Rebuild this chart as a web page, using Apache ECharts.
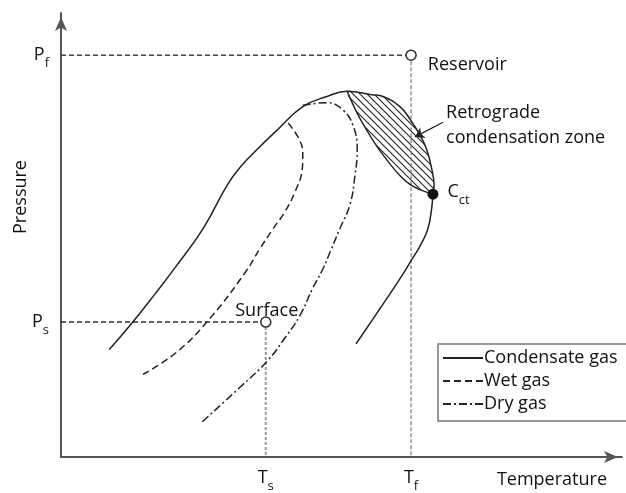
<!DOCTYPE html>
<html>
<head>
<meta charset="utf-8">
<script src="https://cdn.jsdelivr.net/npm/echarts@6/dist/echarts.min.js"></script>
<style>
  html, body { margin: 0; padding: 0; background: #fff; }
  #chart { width: 626px; height: 493px; }
</style>
</head>
<body>
<div id="chart"></div>
<script>
// Phase diagram of a condensate gas reservoir (relative temperature / pressure units, 0-100)

// Condensate gas envelope: bubble-point branch, cricondenbar, dew-point branch
const condensateGas = [
  [8.6, 24.2], [12.8, 30.4], [16.8, 36.8], [20.3, 42.6], [25.3, 51.4], [29.6, 61.2],
  [31.9, 65.2], [34.9, 69.2], [38.5, 73.6], [43.1, 78.9], [47.4, 81.2], [51.0, 82.4],
  [55.4, 81.6], [57.4, 81.2], [60.4, 78.9], [62.2, 76.1], [64.0, 72.5], [65.2, 69.2],
  [66.1, 64.8], [66.5, 61.2], [66.3, 59.2], [66.1, 56.3], [65.4, 51.4], [64.0, 47.5],
  [62.6, 44.6], [60.4, 40.1], [56.9, 33.5], [52.6, 25.5]
];
// Outer edge of the retrograde zone follows the dew line from the cricondenbar to C_ct
const retrogradeOuter = [
  [51.0, 82.4], [55.4, 81.6], [57.4, 81.2], [60.4, 78.9], [62.2, 76.1], [64.0, 72.5],
  [65.2, 69.2], [66.1, 64.8], [66.5, 61.2], [66.3, 59.2]
];
// Inner edge of the retrograde zone, from the cricondenbar down to C_ct
const retrogradeInner = [
  [51.0, 82.4], [52.8, 77.4], [54.6, 73.4], [56.5, 69.6], [58.7, 65.9], [60.4, 63.4],
  [62.2, 61.4], [64.2, 60.1], [66.3, 59.2]
];
const wetGas = [
  [40.5, 75.2], [42.6, 71.2], [43.1, 67.9], [43.0, 64.8], [41.7, 59.7], [39.9, 55.2],
  [37.8, 51.4], [35.5, 47.0], [32.8, 41.5], [26.6, 31.3], [20.7, 23.7], [14.6, 18.6]
];
const dryGas = [
  [43.1, 79.2], [47.4, 79.8], [50.3, 78.1], [52.1, 74.5], [52.8, 69.2], [52.4, 63.4],
  [51.5, 56.8], [49.7, 51.4], [48.0, 46.3], [46.7, 42.4], [44.9, 38.1], [42.6, 31.9],
  [39.9, 26.8], [36.7, 21.5], [31.9, 15.7], [24.8, 7.5]
];

// Reservoir and surface conditions, cricondentherm
const Tf = 62.4, Pf = 90.5;
const Ts = 36.5, Ps = 30.4;
const cricondentherm = [66.3, 59.2];
// Pointer to the retrograde condensation zone
const zonePointer = [[68.1, 75.4], [63.1, 72.1]];

const xTickLabels = { T_s: Ts, T_f: Tf };
const yTickLabels = { P_s: Ps, P_f: Pf };

const FONT = '"Open Sans", "Noto Sans", sans-serif';
const INK = '#222';
const TEXT = '#111';

function subLabel(main, sub) { return '{m|' + main + '}{s|' + sub + '}'; }
const subRich = {
  m: { fontSize: 18, lineHeight: 22, color: TEXT, fontFamily: FONT },
  s: { fontSize: 13, lineHeight: 30, verticalAlign: 'bottom', color: TEXT, fontFamily: FONT }
};

// Diagonal hatch tile for the retrograde zone
const hatch = document.createElement('canvas');
hatch.width = 7; hatch.height = 7;
(function () {
  const c = hatch.getContext('2d');
  c.strokeStyle = '#222';
  c.lineWidth = 1.1;
  c.beginPath();
  c.moveTo(-1, -1); c.lineTo(8, 8);
  c.moveTo(-1, 6); c.lineTo(1, 8);
  c.moveTo(6, -1); c.lineTo(8, 1);
  c.stroke();
})();

const chart = echarts.init(document.getElementById('chart'), null, { renderer: 'canvas' });

function arrowAxisLine() {
  return {
    show: true,
    symbol: ['none', 'arrow'], symbolSize: [9, 14], symbolOffset: [0, -4],
    lineStyle: { color: '#555', width: 2 }
  };
}
function tickFormatter(table) {
  return function (v) {
    const key = Object.keys(table).find(k => table[k] === v);
    const parts = key.split('_');
    return subLabel(parts[0], parts[1]);
  };
}

chart.setOption({
  animation: false,
  backgroundColor: '#fff',
  textStyle: { fontFamily: FONT },
  grid: { left: 61, right: 4, top: 13, bottom: 29 },
  xAxis: {
    type: 'value', min: 0, max: 100,
    axisLine: arrowAxisLine(),
    axisTick: { show: false },
    splitLine: { show: false },
    axisLabel: { customValues: [Ts, Tf], margin: 6, formatter: tickFormatter(xTickLabels), rich: subRich }
  },
  yAxis: {
    type: 'value', min: 0, max: 100,
    axisLine: arrowAxisLine(),
    axisTick: { show: false },
    splitLine: { show: false },
    axisLabel: { customValues: [Ps, Pf], margin: 12, formatter: tickFormatter(yTickLabels), rich: subRich }
  },
  legend: {
    data: ['Condensate gas', 'Wet gas', 'Dry gas'],
    orient: 'vertical',
    left: 438, top: 344,
    itemWidth: 40, itemHeight: 14, itemGap: 5,
    padding: [5, 24, 8, 4],
    borderColor: '#777', borderWidth: 1.5, borderRadius: 0,
    itemStyle: { opacity: 0 },
    textStyle: { fontSize: 18, color: TEXT, fontFamily: FONT, padding: [0, 0, 0, -4] },
    selectedMode: false
  },
  // Axis titles
  graphic: [
    { type: 'text', x: 21, y: 197, rotation: Math.PI / 2,
      style: { text: 'Pressure', fontSize: 18, fontFamily: FONT, fill: TEXT, align: 'center', verticalAlign: 'middle' } },
    { type: 'text', x: 607, y: 480,
      style: { text: 'Temperature', fontSize: 18, fontFamily: FONT, fill: TEXT, align: 'right', verticalAlign: 'middle' } }
  ],
  series: [
    // Reference lines to the reservoir and surface conditions
    { type: 'line', data: [[0, Pf], [Tf, Pf]], symbol: 'none', silent: true,
      lineStyle: { color: '#444', width: 1.5, type: [5, 3] } },
    { type: 'line', data: [[Tf, Pf], [Tf, 0]], symbol: 'none', silent: true,
      lineStyle: { color: '#777', width: 1.2, type: [4, 2] } },
    { type: 'line', data: [[0, Ps], [Ts, Ps]], symbol: 'none', silent: true,
      lineStyle: { color: '#333', width: 1.5, type: [5, 3] } },
    { type: 'line', data: [[Ts, Ps], [Ts, 0]], symbol: 'none', silent: true,
      lineStyle: { color: '#999', width: 2, type: [3, 2] } },
    // Hatched retrograde condensation zone
    {
      type: 'custom', silent: true, z: 3,
      data: [0],
      renderItem: function (params, api) {
        const pts = retrogradeOuter.concat(retrogradeInner.slice(1, -1).reverse()).map(p => api.coord(p));
        return {
          type: 'polygon',
          shape: { points: pts, smooth: 0.25 },
          style: { fill: { image: hatch, repeat: 'repeat' }, stroke: null }
        };
      }
    },
    { type: 'line', name: 'retrograde inner edge', data: retrogradeInner, symbol: 'none', smooth: 0.4, z: 4, silent: true,
      lineStyle: { color: INK, width: 1.4 } },
    { type: 'line', name: 'Condensate gas', data: condensateGas, symbol: 'none', smooth: 0.45, z: 4,
      color: INK, lineStyle: { color: INK, width: 1.5, type: 'solid' } },
    { type: 'line', name: 'Wet gas', data: wetGas, symbol: 'none', smooth: 0.45, z: 4,
      color: INK, lineStyle: { color: INK, width: 1.5, type: [7, 4] } },
    { type: 'line', name: 'Dry gas', data: dryGas, symbol: 'none', smooth: 0.45, z: 4,
      color: INK, lineStyle: { color: INK, width: 1.5, type: [8, 3, 2, 3] } },
    // Arrow pointing into the retrograde zone
    {
      type: 'lines', coordinateSystem: 'cartesian2d', z: 6, silent: true,
      symbol: ['none', 'arrow'], symbolSize: 9,
      lineStyle: { color: INK, width: 1.3, opacity: 1 },
      data: [{ coords: zonePointer }]
    },
    // Labelled state points
    {
      type: 'scatter', z: 8, silent: true,
      symbol: 'circle', symbolSize: 10,
      itemStyle: { color: '#fff', borderColor: '#333', borderWidth: 1.6, opacity: 1 },
      label: { show: true, fontSize: 18, color: TEXT, fontFamily: FONT },
      data: [
        { value: [Tf, Pf], name: 'Reservoir',
          label: { formatter: 'Reservoir', color: TEXT, position: 'right', distance: 11, offset: [0, 10] } },
        { value: [Ts, Ps], name: 'Surface',
          label: { formatter: 'Surface', color: TEXT, position: 'top', distance: 0, offset: [1, 4] } }
      ]
    },
    {
      type: 'scatter', z: 8, silent: true,
      symbol: 'circle', symbolSize: 11,
      itemStyle: { color: '#111', opacity: 1 },
      label: { show: true, position: 'right', distance: 9, offset: [0, -2],
        formatter: subLabel('C', 'ct'), rich: subRich },
      data: [cricondentherm]
    },
    {
      type: 'scatter', z: 8, silent: true,
      symbol: 'circle', symbolSize: 0, itemStyle: { color: 'rgba(0,0,0,0)', opacity: 1 },
      label: { show: true, position: 'right', distance: 3, offset: [0, 3],
        formatter: 'Retrograde\ncondensation zone', fontSize: 18, lineHeight: 25, color: TEXT, fontFamily: FONT },
      data: [zonePointer[0]]
    }
  ]
});
</script>
</body>
</html>
